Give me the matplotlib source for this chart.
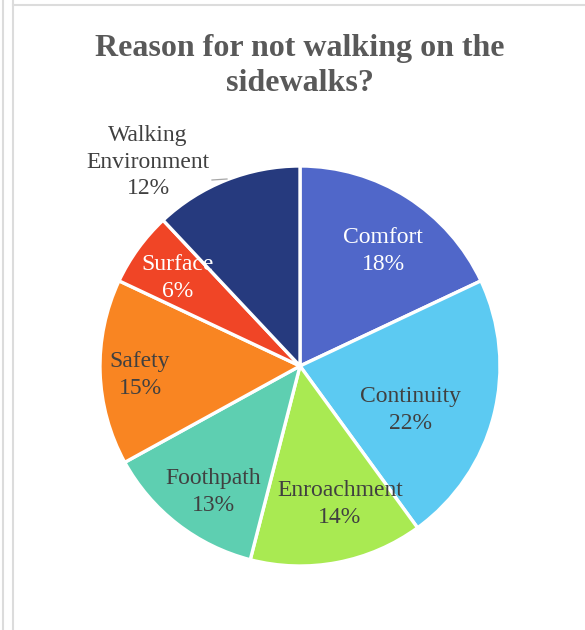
import matplotlib
matplotlib.use("Agg")
import matplotlib.pyplot as plt
from matplotlib.lines import Line2D

# Survey responses
categories = ["Comfort", "Continuity", "Enroachment", "Foothpath",
              "Safety", "Surface", "Walking\nEnvironment"]
shares = [18, 22, 14, 13, 15, 6, 12]
colors = ["#5067C9", "#5CCAF2", "#A9EA52", "#5ECFB1",
          "#F98522", "#F04526", "#263A7E"]
label_colors = ["white", "#404040", "#404040", "#404040",
                "#404040", "white", "#404040"]
# label anchor positions (axes data units, pie radius = 1)
label_pos = [(0.415, 0.575), (0.55, -0.22), (0.2, -0.69), (-0.435, -0.63),
             (-0.8, -0.045), (-0.61, 0.44), (-0.76, 1.02)]

W, H, DPI = 585, 630, 100
fig = plt.figure(figsize=(W / DPI, H / DPI), dpi=DPI)
fig.patch.set_facecolor("white")

serif = ["Liberation Serif", "DejaVu Serif"]

# outer frame lines
def px_line(x0, y0, x1, y1, lw=1.5):
    fig.add_artist(Line2D([x0 / W, x1 / W], [1 - y0 / H, 1 - y1 / H],
                          transform=fig.transFigure, color="#dcdcdc", lw=lw))

px_line(2.5, 0, 2.5, H)
px_line(12.5, 0, 12.5, H)
px_line(12.5, 5, W, 5)

# title
fig.text(300 / W, 1 - 66 / H, "Reason for not walking on the\nsidewalks?",
         ha="center", va="center", fontsize=23, fontweight="bold",
         color="#595959", family=serif, linespacing=1.25)

cx, cy, r = 300, 366, 200
ax = fig.add_axes([(cx - r) / W, (H - cy - r) / H, 2 * r / W, 2 * r / H])
ax.set_axis_off()
wedges, _ = ax.pie(shares, colors=colors, startangle=90, counterclock=False,
                   radius=1, wedgeprops=dict(edgecolor="white", linewidth=2.4))
ax.set_xlim(-1, 1)
ax.set_ylim(-1, 1)

for cat, val, col, (lx, ly) in zip(categories, shares, label_colors, label_pos):
    ax.text(lx, ly, f"{cat}\n{val}%", ha="center", va="center",
            fontsize=17, color=col, family=serif, linespacing=1.35)

# leader line for the outside label
ax.plot([(212 - cx) / r, (227 - cx) / r], [(cy - 180) / r, (cy - 179) / r],
        color="#a6a6a6", lw=0.9, clip_on=False)

fig.savefig("out.png", dpi=DPI, facecolor="white")
